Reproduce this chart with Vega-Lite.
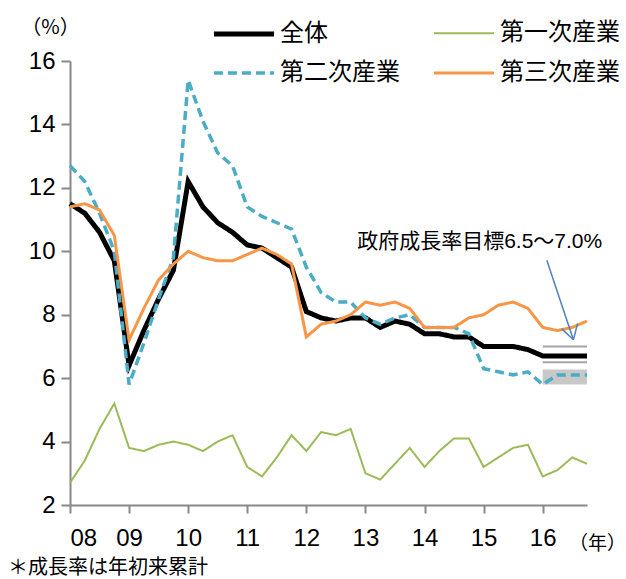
{
  "$schema": "https://vega.github.io/schema/vega-lite/v6.json",
  "width": 517,
  "height": 444,
  "autosize": "none",
  "padding": {"left": 70, "top": 61, "right": 39, "bottom": 74},
  "title": {"text": "＊成長率は年初来累計", "orient": "bottom", "anchor": "start", "frame": "group", "dx": -62, "offset": 5, "font": "Noto Sans CJK JP", "fontSize": 20, "fontWeight": "normal", "color": "black"},
  "config": {"view": {"stroke": null}, "background": "white"},
  "datasets": {
    "series": [
      {"t": 2008.0, "s": "全体", "v": 11.5}, {"t": 2008.25, "s": "全体", "v": 11.2}, {"t": 2008.5, "s": "全体", "v": 10.6}, {"t": 2008.75, "s": "全体", "v": 9.7},
      {"t": 2009.0, "s": "全体", "v": 6.4}, {"t": 2009.25, "s": "全体", "v": 7.5}, {"t": 2009.5, "s": "全体", "v": 8.5}, {"t": 2009.75, "s": "全体", "v": 9.4},
      {"t": 2010.0, "s": "全体", "v": 12.2}, {"t": 2010.25, "s": "全体", "v": 11.4}, {"t": 2010.5, "s": "全体", "v": 10.9}, {"t": 2010.75, "s": "全体", "v": 10.6},
      {"t": 2011.0, "s": "全体", "v": 10.2}, {"t": 2011.25, "s": "全体", "v": 10.1}, {"t": 2011.5, "s": "全体", "v": 9.8}, {"t": 2011.75, "s": "全体", "v": 9.5},
      {"t": 2012.0, "s": "全体", "v": 8.1}, {"t": 2012.25, "s": "全体", "v": 7.9}, {"t": 2012.5, "s": "全体", "v": 7.8}, {"t": 2012.75, "s": "全体", "v": 7.9},
      {"t": 2013.0, "s": "全体", "v": 7.9}, {"t": 2013.25, "s": "全体", "v": 7.6}, {"t": 2013.5, "s": "全体", "v": 7.8}, {"t": 2013.75, "s": "全体", "v": 7.7},
      {"t": 2014.0, "s": "全体", "v": 7.4}, {"t": 2014.25, "s": "全体", "v": 7.4}, {"t": 2014.5, "s": "全体", "v": 7.3}, {"t": 2014.75, "s": "全体", "v": 7.3},
      {"t": 2015.0, "s": "全体", "v": 7.0}, {"t": 2015.25, "s": "全体", "v": 7.0}, {"t": 2015.5, "s": "全体", "v": 7.0}, {"t": 2015.75, "s": "全体", "v": 6.9},
      {"t": 2016.0, "s": "全体", "v": 6.7}, {"t": 2016.25, "s": "全体", "v": 6.7}, {"t": 2016.5, "s": "全体", "v": 6.7}, {"t": 2016.75, "s": "全体", "v": 6.7},

      {"t": 2008.0, "s": "第一次産業", "v": 2.7}, {"t": 2008.25, "s": "第一次産業", "v": 3.4}, {"t": 2008.5, "s": "第一次産業", "v": 4.4}, {"t": 2008.75, "s": "第一次産業", "v": 5.2},
      {"t": 2009.0, "s": "第一次産業", "v": 3.8}, {"t": 2009.25, "s": "第一次産業", "v": 3.7}, {"t": 2009.5, "s": "第一次産業", "v": 3.9}, {"t": 2009.75, "s": "第一次産業", "v": 4.0},
      {"t": 2010.0, "s": "第一次産業", "v": 3.9}, {"t": 2010.25, "s": "第一次産業", "v": 3.7}, {"t": 2010.5, "s": "第一次産業", "v": 4.0}, {"t": 2010.75, "s": "第一次産業", "v": 4.2},
      {"t": 2011.0, "s": "第一次産業", "v": 3.2}, {"t": 2011.25, "s": "第一次産業", "v": 2.9}, {"t": 2011.5, "s": "第一次産業", "v": 3.5}, {"t": 2011.75, "s": "第一次産業", "v": 4.2},
      {"t": 2012.0, "s": "第一次産業", "v": 3.7}, {"t": 2012.25, "s": "第一次産業", "v": 4.3}, {"t": 2012.5, "s": "第一次産業", "v": 4.2}, {"t": 2012.75, "s": "第一次産業", "v": 4.4},
      {"t": 2013.0, "s": "第一次産業", "v": 3.0}, {"t": 2013.25, "s": "第一次産業", "v": 2.8}, {"t": 2013.5, "s": "第一次産業", "v": 3.3}, {"t": 2013.75, "s": "第一次産業", "v": 3.8},
      {"t": 2014.0, "s": "第一次産業", "v": 3.2}, {"t": 2014.25, "s": "第一次産業", "v": 3.7}, {"t": 2014.5, "s": "第一次産業", "v": 4.1}, {"t": 2014.75, "s": "第一次産業", "v": 4.1},
      {"t": 2015.0, "s": "第一次産業", "v": 3.2}, {"t": 2015.25, "s": "第一次産業", "v": 3.5}, {"t": 2015.5, "s": "第一次産業", "v": 3.8}, {"t": 2015.75, "s": "第一次産業", "v": 3.9},
      {"t": 2016.0, "s": "第一次産業", "v": 2.9}, {"t": 2016.25, "s": "第一次産業", "v": 3.1}, {"t": 2016.5, "s": "第一次産業", "v": 3.5}, {"t": 2016.75, "s": "第一次産業", "v": 3.3},

      {"t": 2008.0, "s": "第二次産業", "v": 12.7}, {"t": 2008.25, "s": "第二次産業", "v": 12.2}, {"t": 2008.5, "s": "第二次産業", "v": 11.2}, {"t": 2008.75, "s": "第二次産業", "v": 10.0},
      {"t": 2009.0, "s": "第二次産業", "v": 5.8}, {"t": 2009.25, "s": "第二次産業", "v": 7.1}, {"t": 2009.5, "s": "第二次産業", "v": 8.5}, {"t": 2009.75, "s": "第二次産業", "v": 9.8},
      {"t": 2010.0, "s": "第二次産業", "v": 15.4}, {"t": 2010.25, "s": "第二次産業", "v": 14.1}, {"t": 2010.5, "s": "第二次産業", "v": 13.1}, {"t": 2010.75, "s": "第二次産業", "v": 12.7},
      {"t": 2011.0, "s": "第二次産業", "v": 11.4}, {"t": 2011.25, "s": "第二次産業", "v": 11.1}, {"t": 2011.5, "s": "第二次産業", "v": 10.9}, {"t": 2011.75, "s": "第二次産業", "v": 10.7},
      {"t": 2012.0, "s": "第二次産業", "v": 9.5}, {"t": 2012.25, "s": "第二次産業", "v": 8.7}, {"t": 2012.5, "s": "第二次産業", "v": 8.4}, {"t": 2012.75, "s": "第二次産業", "v": 8.4},
      {"t": 2013.0, "s": "第二次産業", "v": 7.9}, {"t": 2013.25, "s": "第二次産業", "v": 7.7}, {"t": 2013.5, "s": "第二次産業", "v": 7.9}, {"t": 2013.75, "s": "第二次産業", "v": 8.0},
      {"t": 2014.0, "s": "第二次産業", "v": 7.6}, {"t": 2014.25, "s": "第二次産業", "v": 7.6}, {"t": 2014.5, "s": "第二次産業", "v": 7.6}, {"t": 2014.75, "s": "第二次産業", "v": 7.4},
      {"t": 2015.0, "s": "第二次産業", "v": 6.3}, {"t": 2015.25, "s": "第二次産業", "v": 6.2}, {"t": 2015.5, "s": "第二次産業", "v": 6.1}, {"t": 2015.75, "s": "第二次産業", "v": 6.2},
      {"t": 2016.0, "s": "第二次産業", "v": 5.8}, {"t": 2016.25, "s": "第二次産業", "v": 6.1}, {"t": 2016.5, "s": "第二次産業", "v": 6.1}, {"t": 2016.75, "s": "第二次産業", "v": 6.1},

      {"t": 2008.0, "s": "第三次産業", "v": 11.4}, {"t": 2008.25, "s": "第三次産業", "v": 11.5}, {"t": 2008.5, "s": "第三次産業", "v": 11.3}, {"t": 2008.75, "s": "第三次産業", "v": 10.5},
      {"t": 2009.0, "s": "第三次産業", "v": 7.2}, {"t": 2009.25, "s": "第三次産業", "v": 8.2}, {"t": 2009.5, "s": "第三次産業", "v": 9.1}, {"t": 2009.75, "s": "第三次産業", "v": 9.6},
      {"t": 2010.0, "s": "第三次産業", "v": 10.0}, {"t": 2010.25, "s": "第三次産業", "v": 9.8}, {"t": 2010.5, "s": "第三次産業", "v": 9.7}, {"t": 2010.75, "s": "第三次産業", "v": 9.7},
      {"t": 2011.0, "s": "第三次産業", "v": 9.9}, {"t": 2011.25, "s": "第三次産業", "v": 10.1}, {"t": 2011.5, "s": "第三次産業", "v": 9.9}, {"t": 2011.75, "s": "第三次産業", "v": 9.6},
      {"t": 2012.0, "s": "第三次産業", "v": 7.3}, {"t": 2012.25, "s": "第三次産業", "v": 7.7}, {"t": 2012.5, "s": "第三次産業", "v": 7.8}, {"t": 2012.75, "s": "第三次産業", "v": 8.0},
      {"t": 2013.0, "s": "第三次産業", "v": 8.4}, {"t": 2013.25, "s": "第三次産業", "v": 8.3}, {"t": 2013.5, "s": "第三次産業", "v": 8.4}, {"t": 2013.75, "s": "第三次産業", "v": 8.2},
      {"t": 2014.0, "s": "第三次産業", "v": 7.6}, {"t": 2014.25, "s": "第三次産業", "v": 7.6}, {"t": 2014.5, "s": "第三次産業", "v": 7.6}, {"t": 2014.75, "s": "第三次産業", "v": 7.9},
      {"t": 2015.0, "s": "第三次産業", "v": 8.0}, {"t": 2015.25, "s": "第三次産業", "v": 8.3}, {"t": 2015.5, "s": "第三次産業", "v": 8.4}, {"t": 2015.75, "s": "第三次産業", "v": 8.2},
      {"t": 2016.0, "s": "第三次産業", "v": 7.6}, {"t": 2016.25, "s": "第三次産業", "v": 7.5}, {"t": 2016.5, "s": "第三次産業", "v": 7.6}, {"t": 2016.75, "s": "第三次産業", "v": 7.8}
    ],
    "band": [{"x1": 2016.0, "x2": 2016.75, "y1": 5.8, "y2": 6.27}],
    "target": [{"x1": 2016.0, "x2": 2016.75, "y": 7.0}, {"x1": 2016.0, "x2": 2016.75, "y": 6.5}],
    "arrow": [
      {"x1": 2016.07, "y1": 9.72, "x2": 2016.52, "y2": 7.21},
      {"x1": 2016.32, "y1": 7.56, "x2": 2016.52, "y2": 7.21},
      {"x1": 2016.59, "y1": 7.72, "x2": 2016.52, "y2": 7.21}
    ],
    "note": [{"x": 2012.86, "y": 10.29, "label": "政府成長率目標6.5～7.0%"}]
  },
  "layer": [
    {
      "data": {"name": "band"},
      "mark": {"type": "rect", "color": "#C8C8C8"},
      "encoding": {
        "x": {"field": "x1", "type": "quantitative", "scale": {"domain": [2008, 2016.75], "nice": false, "zero": false},
          "axis": {"values": [2008, 2009, 2010, 2011, 2012, 2013, 2014, 2015, 2016], "format": "d", "labelExpr": "substring(datum.label, 2)", "grid": false,
            "domainColor": "#888888", "domainWidth": 2, "tickColor": "#888888", "tickWidth": 2, "tickSize": 8,
            "labelFont": "Liberation Sans", "labelFontSize": 24, "labelColor": "black", "labelPadding": 13,
            "title": "（年）", "titleFont": "Noto Sans CJK JP", "titleFontSize": 19, "titleFontWeight": "normal", "titleColor": "black",
            "titleX": 527, "titleY": 38, "titleAlign": "center", "titleBaseline": "middle"}},
        "x2": {"field": "x2"},
        "y": {"field": "y1", "type": "quantitative", "scale": {"domain": [2, 16], "nice": false, "zero": false},
          "axis": {"values": [2, 4, 6, 8, 10, 12, 14, 16], "grid": false,
            "domainColor": "#888888", "domainWidth": 2, "tickColor": "#888888", "tickWidth": 2, "tickSize": 9,
            "labelFont": "Liberation Sans", "labelFontSize": 24, "labelColor": "black", "labelPadding": 6,
            "title": "（%）", "titleFont": "Noto Sans CJK JP", "titleFontSize": 20, "titleFontWeight": "normal", "titleColor": "black",
            "titleAngle": 0, "titleX": -20, "titleY": -34, "titleAlign": "center", "titleBaseline": "middle"}},
        "y2": {"field": "y2"}
      }
    },
    {
      "data": {"name": "target"},
      "mark": {"type": "rule", "color": "#A6A6A6", "strokeWidth": 2},
      "encoding": {
        "x": {"field": "x1", "type": "quantitative"},
        "x2": {"field": "x2"},
        "y": {"field": "y", "type": "quantitative"}
      }
    },
    {
      "data": {"name": "series"},
      "mark": {"type": "line", "strokeCap": "butt", "strokeJoin": "miter"},
      "encoding": {
        "x": {"field": "t", "type": "quantitative"},
        "y": {"field": "v", "type": "quantitative"},
        "color": {"field": "s", "type": "nominal",
          "scale": {"domain": ["全体", "第一次産業", "第二次産業", "第三次産業"], "range": ["#000000", "#9BBB59", "#4BACC6", "#F79646"]},
          "legend": {"title": null, "orient": "none", "legendX": 146, "legendY": -55, "columns": 2, "direction": "horizontal",
            "symbolType": "M-1.19,0H1.19", "symbolSize": 2550, "symbolFillColor": "transparent", "labelFont": "Noto Sans CJK JP", "labelFontSize": 24, "labelColor": "black",
            "labelOffset": 8, "columnPadding": 27, "rowPadding": 0, "padding": 0}},
        "strokeDash": {"field": "s", "type": "nominal",
          "scale": {"domain": ["全体", "第一次産業", "第二次産業", "第三次産業"], "range": [[1, 0], [1, 0], [9, 5], [1, 0]]}},
        "strokeWidth": {"field": "s", "type": "nominal",
          "scale": {"type": "ordinal", "domain": ["全体", "第一次産業", "第二次産業", "第三次産業"], "range": [5, 2, 3.5, 3]}}
      }
    },
    {
      "data": {"name": "arrow"},
      "mark": {"type": "rule", "color": "#4F81BD", "strokeWidth": 1.5},
      "encoding": {
        "x": {"field": "x1", "type": "quantitative"},
        "y": {"field": "y1", "type": "quantitative"},
        "x2": {"field": "x2"},
        "y2": {"field": "y2"}
      }
    },
    {
      "data": {"name": "note"},
      "mark": {"type": "text", "align": "left", "baseline": "middle", "font": "Liberation Sans, Noto Sans CJK JP", "fontSize": 21, "color": "black"},
      "encoding": {
        "x": {"field": "x", "type": "quantitative"},
        "y": {"field": "y", "type": "quantitative"},
        "text": {"field": "label"}
      }
    }
  ]
}
